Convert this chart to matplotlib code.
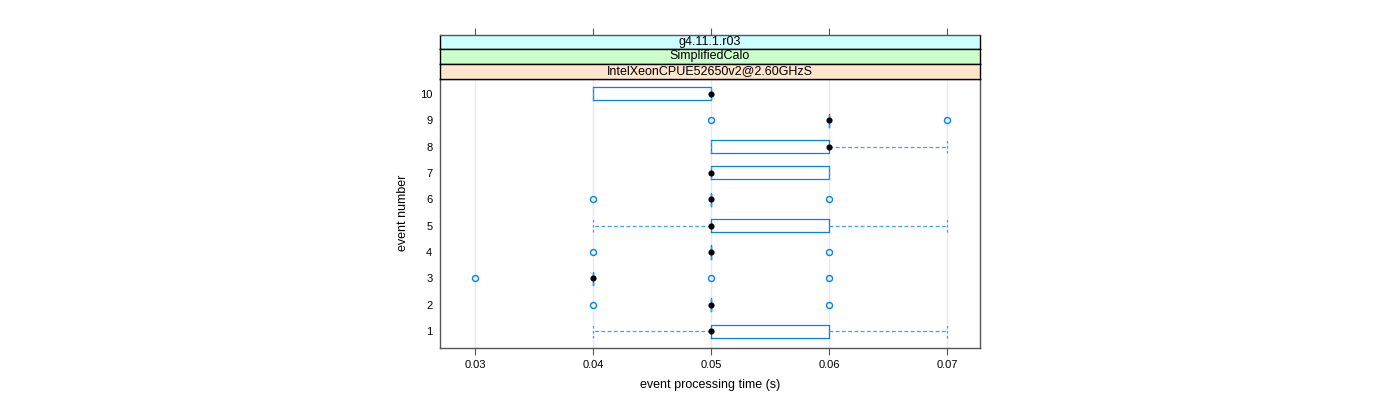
import matplotlib
matplotlib.use("Agg")
import matplotlib.pyplot as plt

plt.rcParams['font.family'] = ['Liberation Sans', 'DejaVu Sans']

events = [1, 2, 3, 4, 5, 6, 7, 8, 9, 10]
q1     = [0.05, 0.05, 0.04, 0.05, 0.05, 0.05, 0.05, 0.05, 0.06, 0.04]
med    = [0.05, 0.05, 0.04, 0.05, 0.05, 0.05, 0.05, 0.06, 0.06, 0.05]
q3     = [0.06, 0.05, 0.04, 0.05, 0.06, 0.05, 0.06, 0.06, 0.06, 0.05]
whislo = [0.04, 0.05, 0.04, 0.05, 0.04, 0.05, 0.05, 0.05, 0.06, 0.04]
whishi = [0.07, 0.05, 0.04, 0.05, 0.07, 0.05, 0.06, 0.07, 0.06, 0.05]
fliers = [[], [0.04, 0.06], [0.03, 0.05, 0.06], [0.04, 0.06], [],
          [0.04, 0.06], [], [], [0.05, 0.07], []]
xticks = [0.03, 0.04, 0.05, 0.06, 0.07]
strip_labels = ["g4.11.1.r03", "SimplifiedCalo", "IntelXeonCPUE52650v2@2.60GHzS"]
strip_colors = ["#ccffff", "#ccffcc", "#ffe5cc"]

blue = "#0080ff"
W, H = 1400, 400
fig = plt.figure(figsize=(14, 4), dpi=100)

pl, pr, pb, pt = 440, 980, 348, 78.5
ax = fig.add_axes([pl / W, 1 - pb / H, (pr - pl) / W, (pb - pt) / H])

stats = []
for i in range(len(events)):
    stats.append(dict(med=med[i], q1=q1[i], q3=q3[i], whislo=whislo[i],
                      whishi=whishi[i], fliers=fliers[i]))

ax.bxp(stats, positions=events, widths=0.5, capwidths=0.5, vert=False,
       showfliers=True, patch_artist=False,
       boxprops=dict(color=blue, linewidth=0.9),
       whiskerprops=dict(color="#3d9cff", linewidth=0.9, linestyle=(0, (3, 2))),
       capprops=dict(color="#3d9cff", linewidth=0.9, linestyle=(0, (2, 2))),
       medianprops=dict(linewidth=0),
       flierprops=dict(marker='o', markerfacecolor='none', markeredgecolor=blue,
                       markersize=4.3, markeredgewidth=1.0, linestyle='none'),
       manage_ticks=False)
ax.plot(med, events, 'o', color='black', markersize=3.4, zorder=5)

ax.set_xlim(0.02703, 0.0728)
ax.set_ylim(0.36, 10.58)
ax.set_xticks(xticks)
ax.set_xticklabels([f"{v:.2f}" for v in xticks], fontsize=8)
ax.set_yticks(events)
ax.set_yticklabels([str(e) for e in events], fontsize=8)
ax.tick_params(axis='y', length=0, pad=5.5)
ax.tick_params(axis='x', length=5, width=0.8, color='#555555', pad=4, direction='out')
for v in xticks:
    ax.axvline(v, color='#e8e8e8', linewidth=1, zorder=0)
for s in ax.spines.values():
    s.set_color('#555555')
    s.set_linewidth(1)
ax.set_xlabel("event processing time (s)", fontsize=9, labelpad=6)
ax.set_ylabel("event number", fontsize=9, labelpad=8)

# strips
strip_edges = [34.7, 49.3, 63.7, 78.5]
for k, (lab, col) in enumerate(zip(strip_labels, strip_colors)):
    top, bot = strip_edges[k], strip_edges[k + 1]
    sax = fig.add_axes([pl / W, 1 - bot / H, (pr - pl) / W, (bot - top) / H])
    sax.set_facecolor(col)
    sax.set_xlim(ax.get_xlim())
    sax.set_ylim(0, 1)
    sax.set_yticks([])
    for s in sax.spines.values():
        s.set_color('black')
        s.set_linewidth(1)
    if k == 0:
        sax.set_xticks(xticks)
        sax.xaxis.tick_top()
        sax.tick_params(axis='x', length=5, width=0.8, color='#555555',
                        labeltop=False, direction='out')
        sax.spines['top'].set_color('#555555')
    else:
        sax.set_xticks([])
    sax.text(0.5, 0.5, lab, transform=sax.transAxes, ha='center', va='center',
             fontsize=9)

fig.savefig("out.png", dpi=100)
